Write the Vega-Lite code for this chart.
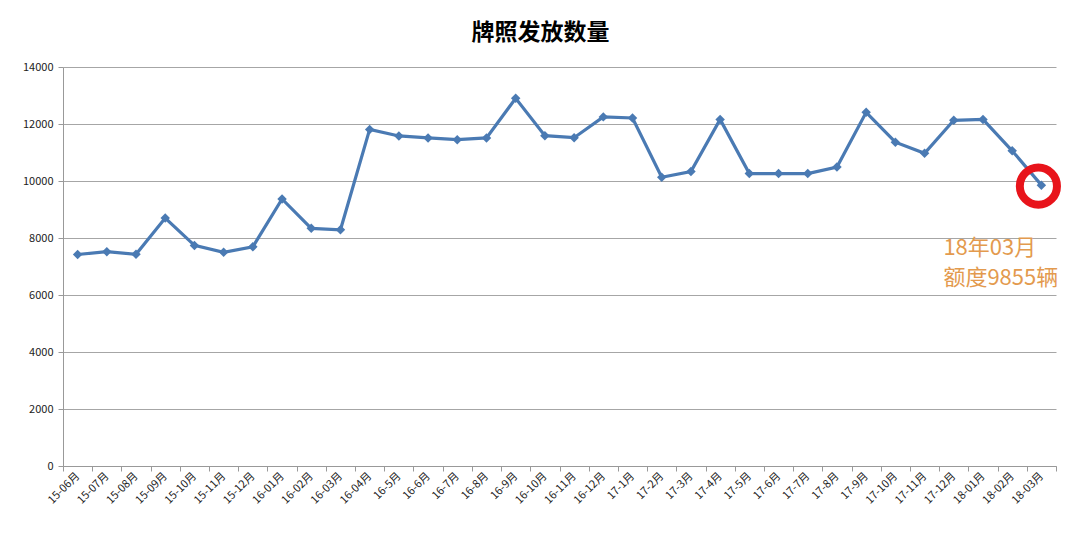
{
  "$schema": "https://vega.github.io/schema/vega-lite/v6.json",
  "width": 993,
  "height": 399,
  "autosize": {"type": "none"},
  "padding": {"left": 63, "top": 67, "right": 24, "bottom": 67},
  "background": "white",
  "config": {
    "view": {"stroke": null},
    "font": "Noto Sans CJK SC"
  },
  "title": {
    "text": "牌照发放数量",
    "font": "Noto Sans CJK SC",
    "fontSize": 23,
    "fontWeight": "bold",
    "color": "#000000",
    "anchor": "middle",
    "offset": 16,
    "dx": -19
  },
  "data": {
    "values": [
      {"month": "15-06月", "count": 7420},
      {"month": "15-07月", "count": 7520},
      {"month": "15-08月", "count": 7430},
      {"month": "15-09月", "count": 8700},
      {"month": "15-10月", "count": 7740},
      {"month": "15-11月", "count": 7500},
      {"month": "15-12月", "count": 7690},
      {"month": "16-01月", "count": 9370},
      {"month": "16-02月", "count": 8340},
      {"month": "16-03月", "count": 8290},
      {"month": "16-04月", "count": 11810},
      {"month": "16-5月", "count": 11580},
      {"month": "16-6月", "count": 11510},
      {"month": "16-7月", "count": 11450},
      {"month": "16-8月", "count": 11510},
      {"month": "16-9月", "count": 12900},
      {"month": "16-10月", "count": 11590},
      {"month": "16-11月", "count": 11520},
      {"month": "16-12月", "count": 12250},
      {"month": "17-1月", "count": 12210},
      {"month": "17-2月", "count": 10130},
      {"month": "17-3月", "count": 10330},
      {"month": "17-4月", "count": 12160},
      {"month": "17-5月", "count": 10260},
      {"month": "17-6月", "count": 10260},
      {"month": "17-7月", "count": 10260},
      {"month": "17-8月", "count": 10490},
      {"month": "17-9月", "count": 12410},
      {"month": "17-10月", "count": 11360},
      {"month": "17-11月", "count": 10970},
      {"month": "17-12月", "count": 12130},
      {"month": "18-01月", "count": 12160},
      {"month": "18-02月", "count": 11060},
      {"month": "18-03月", "count": 9855, "note": "last"}
    ]
  },
  "encoding": {
    "x": {
      "field": "month",
      "type": "ordinal",
      "sort": null,
      "scale": {"paddingInner": 0, "paddingOuter": 0},
      "axis": {
        "title": null,
        "labelAngle": -45,
        "labelAlign": "right",
        "labelBaseline": "middle",
        "labelFontSize": 11,
        "labelColor": "#222222",
        "labelPadding": 3,
        "tickBand": "extent",
        "tickSize": 5,
        "tickColor": "#999999",
        "domainColor": "#999999",
        "grid": false
      }
    },
    "y": {
      "field": "count",
      "type": "quantitative",
      "scale": {"domain": [0, 14000], "nice": false},
      "axis": {
        "title": null,
        "values": [0, 2000, 4000, 6000, 8000, 10000, 12000, 14000],
        "format": "d",
        "labelFontSize": 11,
        "labelColor": "#222222",
        "labelPadding": 5,
        "tickSize": 5,
        "tickColor": "#999999",
        "domainColor": "#999999",
        "gridColor": "#a6a6a6",
        "gridWidth": 1
      }
    }
  },
  "layer": [
    {
      "mark": {"type": "line", "color": "#4A7AB3", "strokeWidth": 3.2}
    },
    {
      "mark": {"type": "point", "shape": "diamond", "filled": true, "color": "#4A7AB3", "size": 90, "opacity": 1}
    },
    {
      "transform": [{"filter": "datum.note === 'last'"}],
      "mark": {"type": "point", "shape": "circle", "filled": false, "stroke": "#E8141B", "strokeWidth": 8, "size": 1380, "opacity": 1, "xOffset": -3, "yOffset": 1}
    },
    {
      "transform": [{"filter": "datum.note === 'last'"}],
      "mark": {
        "type": "text",
        "text": ["18年03月", "额度9855辆"],
        "align": "left",
        "baseline": "top",
        "dx": -98,
        "dy": 53,
        "fontSize": 22,
        "lineHeight": 30,
        "color": "#E39A4E",
        "font": "Noto Sans CJK SC"
      }
    }
  ]
}
